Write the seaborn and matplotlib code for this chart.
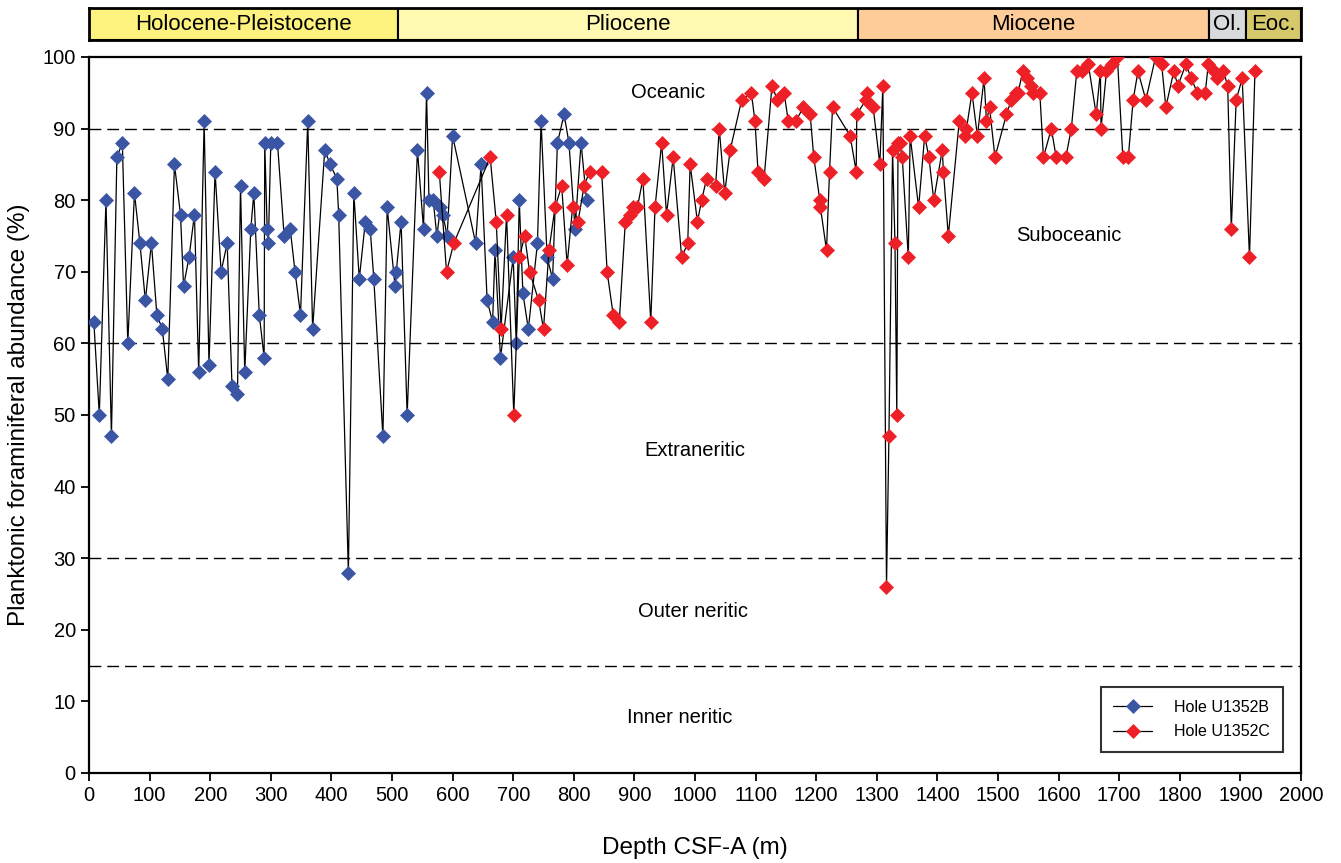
import matplotlib
matplotlib.use("Agg")
import matplotlib.pyplot as plt
import seaborn as sns

# Hole U1352B: depth (m CSF-A) and planktonic foraminiferal abundance (%)
depth_b = [8, 17, 28, 37, 46, 55, 64, 75, 84, 93, 103, 112, 121, 130, 141, 151, 156, 165,
           174, 181, 190, 198, 208, 218, 228, 236, 245, 250, 257, 267, 272, 281, 289, 290,
           294, 296, 300, 311, 322, 332, 340, 349, 361, 369, 389, 398, 409, 412, 428, 437,
           446, 456, 464, 470, 485, 492, 505, 507, 515, 525, 542, 552, 557, 561, 568, 574,
           580, 584, 591, 600, 638, 647, 657, 666, 670, 679, 700, 705, 710, 716, 725, 740,
           746, 756, 765, 773, 784, 792, 802, 812, 821]
abund_b = [63, 50, 80, 47, 86, 88, 60, 81, 74, 66, 74, 64, 62, 55, 85, 78, 68, 72,
           78, 56, 91, 57, 84, 70, 74, 54, 53, 82, 56, 76, 81, 64, 58, 88,
           76, 74, 88, 88, 75, 76, 70, 64, 91, 62, 87, 85, 83, 78, 28, 81,
           69, 77, 76, 69, 47, 79, 68, 70, 77, 50, 87, 76, 95, 80, 80, 75,
           79, 78, 75, 89, 74, 85, 66, 63, 73, 58, 72, 60, 80, 67, 62, 74,
           91, 72, 69, 88, 92, 88, 76, 88, 80]

# Hole U1352C
depth_c = [578, 590, 602, 662, 672, 680, 689, 701, 710, 719, 727, 742, 750, 759, 769, 780,
           789, 798, 807, 817, 826, 846, 855, 865, 875, 885, 892, 898, 905, 914, 927, 934,
           945, 953, 964, 978, 988, 992, 1004, 1011, 1019, 1034, 1040, 1049, 1058, 1077,
           1093, 1099, 1104, 1114, 1127, 1136, 1147, 1154, 1166, 1179, 1190, 1196, 1206,
           1207, 1217, 1222, 1227, 1256, 1266, 1267, 1282, 1284, 1294, 1305, 1310, 1316,
           1320, 1326, 1330, 1333, 1335, 1338, 1342, 1352, 1355, 1369, 1379, 1386, 1394,
           1408, 1410, 1418, 1436, 1445, 1448, 1457, 1466, 1477, 1481, 1486, 1495, 1514,
           1522, 1529, 1533, 1541, 1548, 1555, 1558, 1569, 1575, 1588, 1596, 1612, 1621,
           1630, 1638, 1649, 1662, 1669, 1670, 1679, 1688, 1697, 1706, 1715, 1723, 1731,
           1744, 1760, 1770, 1777, 1790, 1797, 1810, 1819, 1829, 1842, 1847, 1856, 1862,
           1872, 1879, 1885, 1893, 1903, 1915, 1924]
abund_c = [84, 70, 74, 86, 77, 62, 78, 50, 72, 75, 70, 66, 62, 73, 79, 82,
           71, 79, 77, 82, 84, 84, 70, 64, 63, 77, 78, 79, 79, 83, 63, 79,
           88, 78, 86, 72, 74, 85, 77, 80, 83, 82, 90, 81, 87, 94,
           95, 91, 84, 83, 96, 94, 95, 91, 91, 93, 92, 86, 80,
           79, 73, 84, 93, 89, 84, 92, 94, 95, 93, 85, 96, 26,
           47, 87, 74, 50, 88, 88, 86, 72, 89, 79, 89, 86, 80,
           87, 84, 75, 91, 89, 90, 95, 89, 97, 91, 93, 86, 92,
           94, 95, 95, 98, 97, 96, 95, 95, 86, 90, 86, 86, 90,
           98, 98, 99, 92, 98, 90, 98, 99, 100, 86, 86, 94, 98,
           94, 100, 99, 93, 98, 96, 99, 97, 95, 95, 99, 98, 97,
           98, 96, 76, 94, 97, 72, 98]

# Stratigraphic epochs along the depth axis
epoch_names = ["Holocene-Pleistocene", "Pliocene", "Miocene", "Ol.", "Eoc."]
epoch_top = [0, 510, 1269, 1848, 1909]
epoch_base = [510, 1269, 1848, 1909, 2000]
epoch_colors = ["#FEF27F", "#FFF9B2", "#FECC98", "#D9DADC", "#D5C96C"]

# Paleobathymetric zone boundaries (%) and zone names
zone_bounds = [90, 60, 30, 15]
zone_names = ["Oceanic", "Suboceanic", "Extraneritic", "Outer neritic", "Inner neritic"]

sns.set_style("ticks")
plt.rcParams["font.family"] = ["Liberation Sans", "DejaVu Sans"]
plt.rcParams.update({"text.color": "black", "axes.labelcolor": "black",
                     "xtick.color": "black", "ytick.color": "black"})

W, H = 1341, 863
fig = plt.figure(figsize=(W / 100, H / 100), dpi=100)
ax = fig.add_axes([89 / W, 1 - 773 / H, 1212 / W, 716 / H])
ax_ep = fig.add_axes([89 / W, 1 - 40 / H, 1212 / W, 32 / H])

blue = "#3A55A4"
red = "#EE2027"

for yv in zone_bounds:
    ax.axhline(yv, color="black", lw=1.0, linestyle=(0, (8.5, 4.3)), zorder=1)

sns.lineplot(x=depth_b, y=abund_b, ax=ax, estimator=None, sort=False, color="black",
             linewidth=0.9, marker="D", markersize=7.0, markerfacecolor=blue,
             markeredgecolor=blue, markeredgewidth=0.5, label="Hole U1352B", zorder=3)
sns.lineplot(x=depth_c, y=abund_c, ax=ax, estimator=None, sort=False, color="black",
             linewidth=0.9, marker="D", markersize=7.0, markerfacecolor=red,
             markeredgecolor=red, markeredgewidth=0.5, label="Hole U1352C", zorder=4)

zone_fs = 14.5
ax.text(955, 95, zone_names[0], ha="center", va="center", fontsize=zone_fs)
ax.text(1617, 75, zone_names[1], ha="center", va="center", fontsize=zone_fs)
ax.text(1000, 45, zone_names[2], ha="center", va="center", fontsize=zone_fs)
ax.text(997, 22.6, zone_names[3], ha="center", va="center", fontsize=zone_fs)
ax.text(975, 7.8, zone_names[4], ha="center", va="center", fontsize=zone_fs)

ax.set_xlim(0, 2000)
ax.set_ylim(0, 100)
ax.set_xticks(range(0, 2001, 100))
ax.set_yticks(range(0, 101, 10))
ax.tick_params(direction="out", length=6, width=1.3, labelsize=14.5, color="black",
               labelcolor="black")
for sp in ax.spines.values():
    sp.set_visible(True)
    sp.set_linewidth(1.6)
    sp.set_color("black")
ax.set_xlabel("Depth CSF-A (m)", fontsize=17.5, labelpad=23)
ax.set_ylabel("Planktonic foraminiferal abundance (%)", fontsize=17.5, labelpad=9)

leg = ax.legend(loc="lower right", bbox_to_anchor=(0.985, 0.029), borderaxespad=0,
                frameon=True, fancybox=False, fontsize=11.5, handlelength=2.4,
                handletextpad=1.4, borderpad=0.8, labelspacing=0.6)
leg.get_frame().set_edgecolor("black")
leg.get_frame().set_linewidth(1.5)

# Epoch bar
widths = [b - t for t, b in zip(epoch_top, epoch_base)]
ax_ep.barh(0, widths, left=epoch_top, height=1, color=epoch_colors,
           edgecolor="black", linewidth=1.5)
for name, t, b in zip(epoch_names, epoch_top, epoch_base):
    ax_ep.text((t + b) / 2, 0, name, ha="center", va="center", fontsize=16)
ax_ep.set_xlim(0, 2000)
ax_ep.set_ylim(-0.5, 0.5)
ax_ep.set_xticks([])
ax_ep.set_yticks([])
for sp in ax_ep.spines.values():
    sp.set_linewidth(2)
    sp.set_color("black")

fig.savefig("out.png", dpi=100)
